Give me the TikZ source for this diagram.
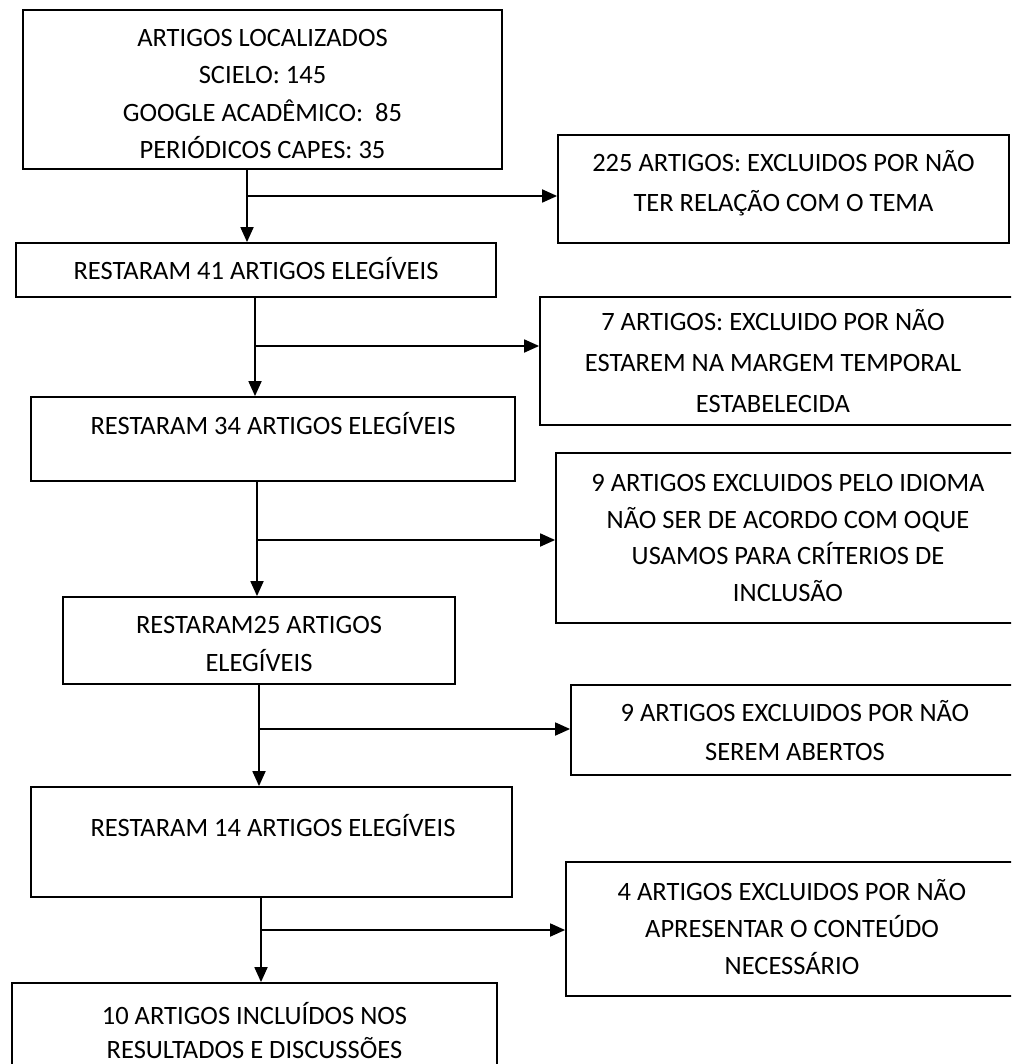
\documentclass[tikz,border=0pt]{standalone}
\usepackage{fontspec}
\setmainfont{Carlito}
\usetikzlibrary{arrows.meta}
\begin{document}
\begin{tikzpicture}[x=1pt,y=-1pt,
  box/.style={draw, line width=1.8pt, inner sep=0pt, rectangle},
  txt/.style={font=\fontsize{26.5}{#1}\selectfont, align=center, inner sep=0pt, text height=17pt, text depth=0pt},
  txt/.default=38,
  arr/.style={line width=1.8pt, -{Triangle[length=15pt,width=13pt]}}]
\useasboundingbox (0,0) rectangle (1011,1064);
\clip (0,0) rectangle (1011,1064);

% main column boxes
\node[box, minimum width=479pt, minimum height=159pt] (b1) at (262.5,89.5) {};
\node[box, minimum width=480pt, minimum height=54pt] (b2) at (256,270) {};
\node[box, minimum width=484pt, minimum height=84pt] (b3) at (273,439) {};
\node[box, minimum width=392pt, minimum height=87pt] (b4) at (259,640.5) {};
\node[box, minimum width=481pt, minimum height=110pt] (b5) at (271.5,842) {};
\node[box, minimum width=485pt, minimum height=107pt] (b6) at (254.5,1036.5) {};

% exclusion boxes
\node[box, minimum width=451pt, minimum height=108pt] (r1) at (783.5,189) {};
\node[box, minimum width=490pt, minimum height=128pt] (r2) at (785,361) {};
\node[box, minimum width=474pt, minimum height=170pt] (r3) at (793,538) {};
\node[box, minimum width=459pt, minimum height=90pt] (r4) at (800.5,730) {};
\node[box, minimum width=464pt, minimum height=134pt] (r5) at (798,929) {};

% texts
\node[txt=37.3, text height=128.9pt] (t1) at (262.5,94) {ARTIGOS LOCALIZADOS\\SCIELO: 145\\GOOGLE ACADÊMICO:\ \ 85\\PERIÓDICOS CAPES: 35};
\node[txt] (t2) at (256,271) {RESTARAM 41 ARTIGOS ELEGÍVEIS};
\node[txt] (t3) at (273,426) {RESTARAM 34 ARTIGOS ELEGÍVEIS};
\node[txt=38, text height=55pt] (t4) at (259,644) {RESTARAM25 ARTIGOS\\ELEGÍVEIS};
\node[txt] (t5) at (273,828) {RESTARAM 14 ARTIGOS ELEGÍVEIS};
\node[txt=34, text height=51pt] (t6) at (254.5,1033) {10 ARTIGOS INCLUÍDOS NOS\\RESULTADOS E DISCUSSÕES};

\node[txt=40, text height=57pt] (u1) at (783.5,183) {225 ARTIGOS: EXCLUIDOS POR NÃO\\TER RELAÇÃO COM O TEMA};
\node[txt=41, text height=99pt] (u2) at (773,363) {7 ARTIGOS: EXCLUIDO POR NÃO\\ESTAREM NA MARGEM TEMPORAL\\ESTABELECIDA};
\node[txt=36.7, text height=127.1pt] (u3) at (788,538) {9 ARTIGOS EXCLUIDOS PELO IDIOMA\\NÃO SER DE ACORDO COM OQUE\\USAMOS PARA CRÍTERIOS DE\\INCLUSÃO};
\node[txt=39, text height=56pt] (u4) at (795,732.5) {9 ARTIGOS EXCLUIDOS POR NÃO\\SEREM ABERTOS};
\node[txt=37, text height=91pt] (u5) at (792,929) {4 ARTIGOS EXCLUIDOS POR NÃO\\APRESENTAR O CONTEÚDO\\NECESSÁRIO};

% junctions
\coordinate (j1) at (247,196);
\coordinate (j2) at (255,346);
\coordinate (j3) at (257,540);
\coordinate (j4) at (259,729);
\coordinate (j5) at (261,930);

% connectors
\draw[arr] (b1.south -| j1) -- (b2.north -| j1);
\draw[arr] (j1) -- (r1.west |- j1);
\draw[arr] (b2.south -| j2) -- (b3.north -| j2);
\draw[arr] (j2) -- (r2.west |- j2);
\draw[arr] (b3.south -| j3) -- (b4.north -| j3);
\draw[arr] (j3) -- (r3.west |- j3);
\draw[arr] (b4.south -| j4) -- (b5.north -| j4);
\draw[arr] (j4) -- (r4.west |- j4);
\draw[arr] (b5.south -| j5) -- (b6.north -| j5);
\draw[arr] (j5) -- (r5.west |- j5);
\end{tikzpicture}
\end{document}
